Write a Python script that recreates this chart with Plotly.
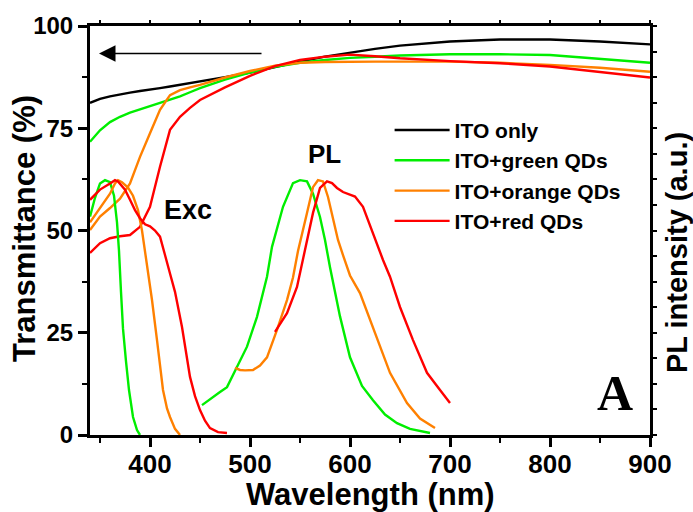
import plotly.graph_objects as go

# ---------------- data ----------------
# Transmittance spectra (%)
wl_T = [340, 350, 360, 370, 380, 390, 400, 410, 420, 430, 440, 450, 475, 500,
        525, 550, 575, 600, 625, 650, 700, 750, 800, 850, 900]
T_ito = [81.2, 82.2, 82.8, 83.3, 83.7, 84.1, 84.4, 84.8, 85.2, 85.6, 86.0, 86.4,
         87.5, 88.6, 90.0, 91.3, 92.5, 93.5, 94.4, 95.2, 96.2, 96.7, 96.7, 96.2, 95.5]
T_green = [71.7, 74.5, 76.5, 77.8, 78.8, 79.6, 80.4, 81.2, 82.0, 82.8, 83.8, 84.8,
           86.9, 88.6, 90.0, 91.0, 91.7, 92.2, 92.5, 92.8, 93.1, 93.1, 92.9, 91.9, 91.0]
T_orange = [50.1, 53.4, 55.5, 57.8, 61.5, 68.0, 73.8, 79.5, 83.1, 84.3, 85.0, 85.6,
            87.4, 89.0, 90.3, 91.0, 91.2, 91.3, 91.3, 91.3, 91.3, 91.0, 90.5, 89.8, 88.8]
T_red = [44.5, 46.9, 48.1, 48.6, 48.9, 50.9, 55.8, 65.6, 74.6, 77.8, 80.0, 81.9,
         85.0, 87.8, 90.2, 91.7, 92.5, 93.0, 92.6, 92.1, 91.4, 90.9, 90.1, 88.8, 87.4]

# Excitation spectra (a.u.)
wl_exc_green = [340, 345, 350, 355, 360, 364, 367, 369, 371, 373, 376, 379, 383, 387, 390]
exc_green = [53.4, 58.0, 61.5, 62.3, 61.8, 58.5, 52.0, 45.0, 35.0, 26.0, 18.0, 11.0, 4.4, 1.2, 0.0]
wl_exc_orange = [340, 350, 360, 365, 368, 372, 378, 383, 388, 392, 395, 398, 402, 407,
                 413, 417, 420, 425, 430]
exc_orange = [52.0, 55.5, 59.0, 61.5, 62.3, 61.8, 60.5, 58.5, 55.0, 50.0, 45.0, 39.0,
              33.0, 23.2, 11.0, 6.5, 4.4, 1.5, 0.0]
wl_exc_red = [340, 350, 360, 365, 368, 375, 380, 385, 390, 395, 400, 405, 410, 413, 415,
              420, 425, 432, 440, 445, 450, 455, 460, 468, 477]
exc_red = [57.5, 60.0, 61.5, 62.3, 62.0, 60.0, 57.5, 55.0, 53.0, 51.5, 51.0, 50.0, 48.5,
           46.0, 44.0, 39.5, 35.0, 26.4, 14.2, 9.5, 6.1, 3.5, 1.7, 0.7, 0.5]

# Photoluminescence spectra (a.u.)
wl_pl_green = [452, 460, 470, 477, 483, 490, 497, 507, 517, 522, 533, 543, 550, 557,
               563, 570, 575, 580, 590, 600, 612, 623, 635, 647, 660, 680]
pl_green = [7.3, 8.8, 10.5, 11.7, 14.7, 18.0, 21.6, 28.9, 38.7, 46.0, 55.8, 61.6, 62.3,
            62.0, 59.0, 53.3, 47.7, 41.0, 29.0, 19.0, 12.0, 8.5, 5.0, 2.9, 1.5, 0.5]
wl_pl_orange = [485, 490, 495, 503, 510, 517, 527, 537, 543, 548, 557, 563, 568, 573,
                578, 583, 588, 593, 600, 610, 623, 640, 657, 670, 685]
pl_orange = [16.4, 15.9, 15.8, 15.9, 17.0, 19.0, 25.7, 33.0, 38.5, 45.0, 54.3, 60.6,
             62.3, 62.0, 58.2, 53.3, 47.7, 44.0, 39.0, 34.7, 26.4, 15.2, 7.8, 4.0, 1.7]
wl_pl_red = [525, 530, 537, 547, 553, 557, 563, 570, 577, 582, 587, 593, 600, 605,
             613, 618, 623, 633, 640, 650, 663, 677, 690, 700]
pl_red = [25.2, 27.0, 29.8, 36.2, 42.8, 47.7, 54.3, 60.4, 62.0, 61.6, 60.4, 59.4, 58.7,
          58.3, 55.8, 52.5, 49.4, 42.8, 38.7, 31.3, 23.2, 15.2, 11.0, 7.8]

names = ["ITO only", "ITO+green QDs", "ITO+orange QDs", "ITO+red QDs"]
colors = ["#000000", "#00ee00", "#ff8000", "#ff0000"]

# annotations (label text and anchor positions in data units)
arrow_tail = (513, 93.3)
arrow_head = (349, 93.3)
label_PL = (574, 68.7)
label_Exc = (438, 55.0)
label_A = (865, 10.3)

FONT = "Arial, Liberation Sans, sans-serif"
LW = 2.4

fig = go.Figure()
for nm, c, y in zip(names, colors, [T_ito, T_green, T_orange, T_red]):
    fig.add_trace(go.Scatter(x=wl_T, y=y, mode="lines", name=nm,
                             line=dict(color=c, width=LW)))

for c, (wx, wy) in zip(colors[1:], [(wl_exc_green, exc_green),
                                   (wl_exc_orange, exc_orange),
                                   (wl_exc_red, exc_red)]):
    fig.add_trace(go.Scatter(x=wx, y=wy, mode="lines", showlegend=False,
                             xaxis="x2", yaxis="y2", line=dict(color=c, width=LW)))

for c, (wx, wy) in zip(colors[1:], [(wl_pl_green, pl_green),
                                   (wl_pl_orange, pl_orange),
                                   (wl_pl_red, pl_red)]):
    fig.add_trace(go.Scatter(x=wx, y=wy, mode="lines", showlegend=False,
                             xaxis="x2", yaxis="y2", line=dict(color=c, width=LW)))

axis_common = dict(showgrid=False, zeroline=False, showline=True,
                   linecolor="black", linewidth=3, ticks="outside",
                   tickcolor="black")

fig.update_layout(
    width=693, height=512, autosize=False,
    margin=dict(l=90, r=43, t=26, b=77),
    paper_bgcolor="white", plot_bgcolor="white",
    font=dict(family=FONT, color="black"),
    xaxis=dict(range=[340, 900], tickmode="linear", tick0=0, dtick=100,
               ticklen=9, tickwidth=2.5, ticklabelstandoff=-5,
               tickfont=dict(size=26, family=FONT, weight="bold"),
               minor=dict(dtick=50, tick0=0, ticklen=5, tickwidth=2, ticks="outside",
                          tickcolor="black", showgrid=False),
               **axis_common),
    xaxis2=dict(range=[340, 900], overlaying="x", side="top", tickmode="linear",
                tick0=0, dtick=50, ticklen=3, tickwidth=2, showticklabels=False,
                **axis_common),
    yaxis=dict(range=[0, 100], tickmode="linear", tick0=0, dtick=25,
               ticklen=9, tickwidth=2.5,
               tickfont=dict(size=24, family=FONT, weight="bold"),
               minor=dict(dtick=12.5, tick0=0, ticklen=5, tickwidth=2, ticks="outside",
                          tickcolor="black", showgrid=False),
               **axis_common),
    yaxis2=dict(range=[0, 100], overlaying="y", side="right", tickmode="linear",
                tick0=0, dtick=6.25, ticklen=4, tickwidth=2, showticklabels=False,
                **axis_common),
    legend=dict(x=0.535, y=0.795, xanchor="left", yanchor="top",
                bgcolor="rgba(0,0,0,0)", borderwidth=0, itemwidth=55,
                font=dict(size=21, family=FONT, weight="bold"),
                tracegroupgap=0),
    showlegend=True,
)

ann = [
    dict(text="<b>Wavelength (nm)</b>", xref="paper", yref="paper", x=0.5, y=-0.146,
         xanchor="center", yanchor="middle", showarrow=False, font=dict(size=31)),
    dict(text="<b>Transmittance (%)</b>", xref="paper", yref="paper", x=-0.117, y=0.505,
         xanchor="center", yanchor="middle", textangle=-90, showarrow=False,
         font=dict(size=31)),
    dict(text="<b>PL intensity (a.u.)</b>", xref="paper", yref="paper", x=1.048, y=0.447,
         xanchor="center", yanchor="middle", textangle=-90, showarrow=False,
         font=dict(size=29)),
    dict(text="<b>PL</b>", x=label_PL[0], y=label_PL[1], xref="x", yref="y",
         showarrow=False, font=dict(size=26)),
    dict(text="<b>Exc</b>", x=label_Exc[0], y=label_Exc[1], xref="x", yref="y",
         showarrow=False, font=dict(size=27)),
    dict(text="<b>A</b>", x=label_A[0], y=label_A[1], xref="x", yref="y",
         showarrow=False, font=dict(size=50, family="Liberation Serif, Times New Roman, serif")),
    dict(text="", x=arrow_head[0], y=arrow_head[1], ax=arrow_tail[0], ay=arrow_tail[1],
         xref="x", yref="y", axref="x", ayref="y", showarrow=True, arrowhead=2,
         arrowsize=2.2, arrowwidth=1.5, arrowcolor="black"),
]
fig.update_layout(annotations=ann)

fig.write_html("out.html")
